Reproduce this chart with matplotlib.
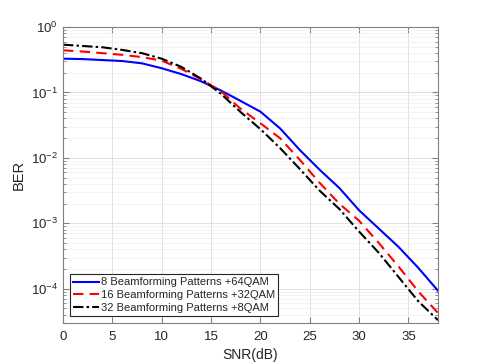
import matplotlib
matplotlib.use('Agg')
import matplotlib.pyplot as plt
import numpy as np
from matplotlib.ticker import LogLocator, NullFormatter

plt.rcParams['font.family'] = ['Liberation Sans', 'DejaVu Sans']
plt.rcParams['mathtext.fontset'] = 'custom'
plt.rcParams['mathtext.rm'] = 'Liberation Sans'
plt.rcParams['mathtext.it'] = 'Liberation Sans'

snr = np.arange(0, 39, 2)

# log10(BER)
ber8_log = [-0.484, -0.49, -0.505, -0.52, -0.555, -0.63, -0.72, -0.83, -0.97, -1.13,
            -1.293, -1.55, -1.88, -2.18, -2.46, -2.80, -3.08, -3.36, -3.68, -4.03]
ber16_log = [-0.356, -0.375, -0.40, -0.425, -0.46, -0.514, -0.64, -0.80, -0.98, -1.25,
             -1.47, -1.70, -2.03, -2.38, -2.70, -2.96, -3.30, -3.66, -4.04, -4.37]
ber32_log = [-0.27, -0.29, -0.31, -0.35, -0.40, -0.484, -0.61, -0.79, -1.02, -1.30,
             -1.56, -1.85, -2.17, -2.50, -2.78, -3.125, -3.45, -3.82, -4.19, -4.48]

labels = ['8 Beamforming Patterns +64QAM',
          '16 Beamforming Patterns +32QAM',
          '32 Beamforming Patterns +8QAM']

ber8 = 10 ** np.array(ber8_log)
ber16 = 10 ** np.array(ber16_log)
ber32 = 10 ** np.array(ber32_log)

fig = plt.figure(figsize=(4.85, 3.63), dpi=100)
ax = fig.add_axes([63 / 485, 1 - 323 / 363, 375 / 485, 296 / 363])

ax.semilogy(snr, ber8, color='#0000ff', lw=1.5, ls='-', label=labels[0])
ax.semilogy(snr, ber16, color='#ff0000', lw=1.5, ls=(0, (5, 3)), label=labels[1])
ax.semilogy(snr, ber32, color='black', lw=1.5, ls=(0, (5, 1.5, 1.2, 1.5)), label=labels[2])

ax.set_xlim(0, 38)
ax.set_ylim(3e-5, 1)
ax.set_xticks([0, 5, 10, 15, 20, 25, 30, 35])
ax.yaxis.set_major_locator(LogLocator(base=10, numticks=10))
ax.yaxis.set_minor_locator(LogLocator(base=10, subs=np.arange(2, 10), numticks=10))
ax.yaxis.set_minor_formatter(NullFormatter())

grey = '#262626'
ax.grid(True, which='major', color='#dcdcdc', lw=0.6)
ax.grid(True, which='minor', axis='y', color='#eeeeee', lw=0.5)
ax.set_axisbelow(True)
for s in ax.spines.values():
    s.set_color('#808080')
    s.set_linewidth(0.8)
ax.tick_params(which='both', direction='in', top=True, right=True, colors='#808080',
               labelcolor=grey, labelsize=9.5)
ax.tick_params(which='major', length=4)
ax.tick_params(which='minor', length=2)
ax.tick_params(axis='x', pad=6)

ax.set_xlabel('SNR(dB)', fontsize=10, color=grey, labelpad=3)
ax.set_ylabel('BER', fontsize=10.5, color=grey, labelpad=4)

leg = ax.legend(loc='lower left', bbox_to_anchor=(0.012, 0.015), fontsize=8,
                handlelength=2.3, handletextpad=0.2, borderpad=0.3, labelspacing=0.25,
                borderaxespad=0.2, fancybox=False, framealpha=1)
leg.get_frame().set_edgecolor(grey)
leg.get_frame().set_linewidth(0.8)
for t in leg.get_texts():
    t.set_color(grey)

fig.savefig('out.png', dpi=100)
